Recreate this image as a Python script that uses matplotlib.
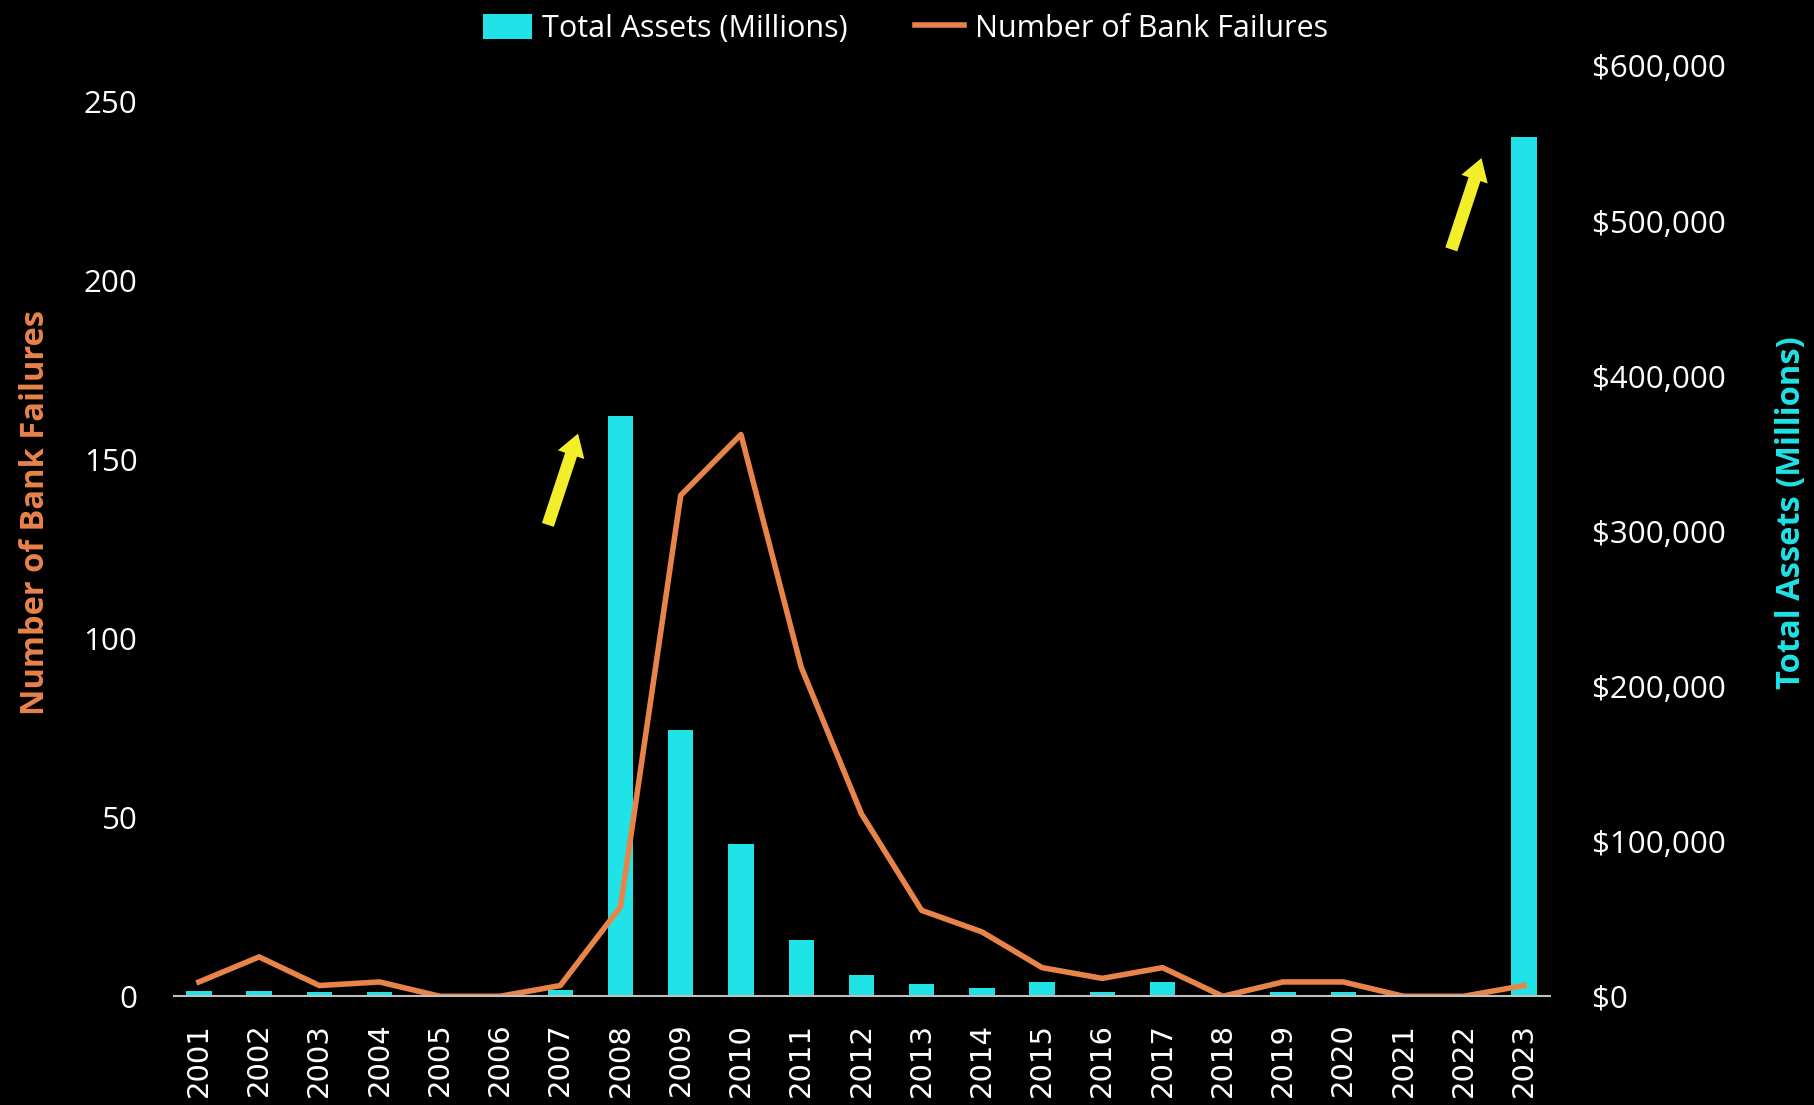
import matplotlib.pyplot as plt
import numpy as np

years = [str(y) for y in range(2001, 2024)]
failures = [4, 11, 3, 4, 0, 0, 3, 25, 140, 157, 92, 51, 24, 18, 8, 5, 8, 0, 4, 4, 0, 0, 3]
assets = [3500, 3500, 2500, 3000, 0, 0, 4000, 374000, 172000, 98000, 36500, 13500,
          8000, 5500, 9000, 3000, 9000, 0, 3000, 3000, 0, 0, 554000]

cyan = "#1fe3e6"
orange = "#e8834a"
yellow = "#f2ee2a"
font = "Open Sans"

fig = plt.figure(figsize=(18.14, 11.05), dpi=100, facecolor="black")
ax = fig.add_axes([0.0957, 0.0984, 0.759, 0.8419])
ax.set_facecolor("black")
ax2 = ax.twinx()

x = np.arange(len(years))

# bars on the right axis, line on the left one
b = ax2.bar(x, assets, width=0.42, color=cyan, label="Total Assets (Millions)")
l, = ax.plot(x, failures, color=orange, lw=4, label="Number of Bank Failures")
ax.set_zorder(ax2.get_zorder() + 1)
ax.patch.set_visible(False)

ax.set_xlim(-0.42, 22.44)
ax.set_ylim(0, 260)
ax2.set_ylim(0, 600000)
ax.set_yticks([0, 50, 100, 150, 200, 250])
ax2.set_yticks(np.arange(0, 600001, 100000))
ax2.set_yticklabels(["$" + format(v, ",") for v in range(0, 600001, 100000)])

ax.set_xticks(x)
ax.set_xticklabels(years, rotation=90, fontsize=21, color="white", family="DejaVu Sans")
ax.tick_params(axis="x", length=0, pad=19)
ax.tick_params(axis="y", length=0, pad=26, labelsize=22.5, labelcolor="white")
ax2.tick_params(axis="y", length=0, pad=30, labelsize=22.5, labelcolor="white")
for t in ax.get_yticklabels() + ax2.get_yticklabels():
    t.set_family(font)

for a in (ax, ax2):
    for s in a.spines.values():
        s.set_visible(False)
ax.spines["bottom"].set_visible(True)
ax.spines["bottom"].set_color("#bfbfbf")
ax.spines["bottom"].set_linewidth(1.5)

ax.set_ylabel("Number of Bank Failures", color=orange, fontsize=23.5,
              fontweight="bold", family=font)
ax.yaxis.set_label_coords(-0.088, 0.52)
ax2.set_ylabel("Total Assets (Millions)", color=cyan, fontsize=23.5,
               fontweight="bold", family=font)
ax2.yaxis.set_label_coords(1.163, 0.52)

# yellow arrows pointing at 2008 and 2023 bars
for i, yb in [(7, 131), (22, 208)]:
    ax.annotate("", xy=(i - 0.69, yb + 27), xytext=(i - 1.22, yb),
                arrowprops=dict(arrowstyle="simple,head_length=1.6,head_width=2.0,tail_width=0.9",
                                color=yellow, lw=0))

fig.legend([b, l], ["Total Assets (Millions)", "Number of Bank Failures"],
           loc="center", bbox_to_anchor=(0.499, 0.974), ncol=2, frameon=False,
           prop={"family": font, "size": 22}, labelcolor="white",
           handlelength=1.6, handleheight=0.9, columnspacing=2.2, handletextpad=0.35)

fig.savefig("out.png", dpi=100, facecolor="black")
